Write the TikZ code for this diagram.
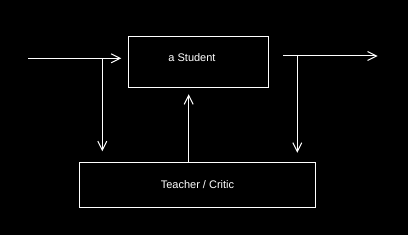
\documentclass[tikz,border=0pt]{standalone}
\usepackage{fontspec}
\setmainfont{Liberation Sans}
\usetikzlibrary{arrows.meta,positioning,calc}

\begin{document}
\begin{tikzpicture}[x=1pt, y=-1pt, line width=1pt, white,
    box/.style={draw=white, rectangle, inner sep=0pt},
    txt/.style={font=\fontsize{11}{13}\selectfont, text=white},
    arr/.style={-{Straight Barb[length=9pt, width=9pt]}}]
    % Background
    \fill[black] (0, 0) rectangle (408, 235);

    % Boxes
    \node[box, minimum width=140.5pt, minimum height=50.5pt] (student) at (198.5, 62) {};
    \node[txt] (studentlabel) at (192, 57.5) {a Student};
    \node[box, minimum width=236.5pt, minimum height=45pt, txt] (teacher) at (197.5, 184.8) {Teacher / Critic};

    % Input side
    \coordinate (in) at (28, 58.3);
    \coordinate (splitL) at (102.3, 58.3);
    \draw[arr, shorten >=6.5pt] (in) -- (student.west |- in);
    \draw[arr, shorten >=10.5pt] (splitL) -- (teacher.north -| splitL);

    % Feedback
    \coordinate (fb) at (188.7, 162.3);
    \draw[arr, shorten >=6.5pt] (fb) -- (student.south -| fb);

    % Output side
    \coordinate (outA) at (283, 56);
    \coordinate (out) at (377.7, 56);
    \coordinate (splitR) at (297.3, 56);
    \draw[arr] (outA) -- (out);
    \draw[arr, shorten >=9pt] (splitR) -- (teacher.north -| splitR);
\end{tikzpicture}
\end{document}
